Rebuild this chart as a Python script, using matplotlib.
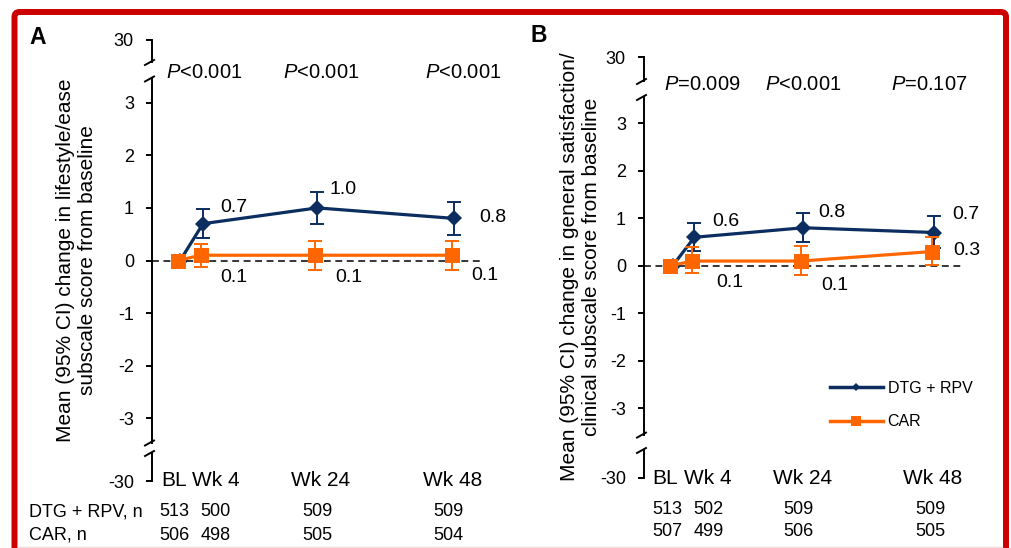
import matplotlib
matplotlib.use('Agg')
import matplotlib.pyplot as plt
from matplotlib.lines import Line2D
from matplotlib.patches import FancyBboxPatch
from matplotlib.transforms import IdentityTransform

plt.rcParams['font.family'] = ['Liberation Sans', 'DejaVu Sans']
plt.rcParams['mathtext.fontset'] = 'custom'
plt.rcParams['mathtext.it'] = 'Liberation Sans:italic'
plt.rcParams['mathtext.rm'] = 'Liberation Sans'
plt.rcParams['axes.unicode_minus'] = False

# ---------------- data ----------------
timepoints = ['BL', 'Wk 4', 'Wk 24', 'Wk 48']
weeks = [0, 4, 24, 48]
series_names = ['DTG + RPV', 'CAR']
row_labels = ['DTG + RPV, n', 'CAR, n']

a_dtg_mean = [0.0, 0.7, 1.0, 0.8]
a_dtg_lo = [0.0, 0.43, 0.70, 0.48]
a_dtg_hi = [0.0, 0.97, 1.30, 1.11]
a_car_mean = [0.0, 0.1, 0.1, 0.1]
a_car_lo = [0.0, -0.12, -0.18, -0.18]
a_car_hi = [0.0, 0.32, 0.38, 0.38]
a_pvalues = ['<0.001', '<0.001', '<0.001']
a_n_dtg = [513, 500, 509, 509]
a_n_car = [506, 498, 505, 504]
a_ylabel = 'Mean (95% CI) change in lifestyle/ease\nsubscale score from baseline'

b_dtg_mean = [0.0, 0.6, 0.8, 0.7]
b_dtg_lo = [0.0, 0.32, 0.51, 0.37]
b_dtg_hi = [0.0, 0.91, 1.11, 1.05]
b_car_mean = [0.0, 0.1, 0.1, 0.3]
b_car_lo = [0.0, -0.16, -0.20, 0.01]
b_car_hi = [0.0, 0.39, 0.41, 0.61]
b_pvalues = ['=0.009', '<0.001', '=0.107']
b_n_dtg = [513, 502, 509, 509]
b_n_car = [507, 499, 506, 505]
b_ylabel = 'Mean (95% CI) change in general satisfaction/\nclinical subscale score from baseline'

yticks_main = [-3, -2, -1, 0, 1, 2, 3]
ytick_top = 30
ytick_bot = -30

# ---------------- style ----------------
BLUE = '#0B2D5F'
ORANGE = '#FF6600'
RED = '#CC0000'
W, H = 1011, 548

fig = plt.figure(figsize=(W / 100, H / 100), dpi=100)


def px_axes(left, top, right, bottom):
    return fig.add_axes([left / W, 1 - bottom / H, (right - left) / W, (bottom - top) / H])


def break_mark(x, y):
    fig.add_artist(Line2D([x - 7, x + 2], [H - (y + 3), H - (y - 2)],
                          transform=IdentityTransform(), color='black', lw=1.4))


def draw_panel(cfg):
    ax = px_axes(cfg['left'], cfg['main_top'], cfg['right'], cfg['main_bottom'])
    ax_top = px_axes(cfg['left'], cfg['top_top'], cfg['right'], cfg['top_bottom'])
    ax_bot = px_axes(cfg['left'], cfg['bot_top'], cfg['right'], cfg['bot_bottom'])
    for a in (ax, ax_top, ax_bot):
        a.set_xlim(*cfg['xlim'])
        a.patch.set_visible(False)
        for s in ('top', 'right', 'bottom'):
            a.spines[s].set_visible(False)
        a.spines['left'].set_linewidth(1.4)
        a.tick_params(axis='y', direction='out', length=4.5, width=1.4,
                      labelsize=13, pad=8.5)
        a.tick_params(axis='x', bottom=False, labelbottom=False)
    ax.set_ylim(-cfg['ylim'], cfg['ylim'])
    ax.set_yticks(yticks_main)
    ax_top.set_ylim(ytick_top - 10, ytick_top)
    ax_top.set_yticks([ytick_top])
    ax_bot.set_ylim(ytick_bot, ytick_bot + 10)
    ax_bot.set_yticks([ytick_bot])

    for y in (cfg['top_bottom'], cfg['main_top'], cfg['main_bottom'], cfg['bot_top']):
        break_mark(cfg['left'], y)

    ax.axhline(0, color='black', lw=1.1, dashes=(4.5, 3), zorder=1)

    for (mean, lo, hi, color, marker, ms, dodge, offs, z) in (
        (cfg['dtg'], cfg['dtg_lo'], cfg['dtg_hi'], BLUE, 'D', 8.5, 0.2, cfg['dtg_offs'], 3),
        (cfg['car'], cfg['car_lo'], cfg['car_hi'], ORANGE, 's', 10.8, -0.2, cfg['car_offs'], 4),
    ):
        xs = [w + dodge for w in weeks]
        ax.plot(xs, mean, color=color, lw=2.3, marker=marker, ms=ms, mew=0, zorder=z)
        err_lo = [m - l for m, l in zip(mean[1:], lo[1:])]
        err_hi = [h - m for m, h in zip(mean[1:], hi[1:])]
        ax.errorbar(xs[1:], mean[1:], yerr=[err_lo, err_hi], fmt='none', ecolor=color,
                    elinewidth=1.4, capsize=4.7, capthick=1.4, zorder=z)
        for x, m, (dx, dy) in zip(xs[1:], mean[1:], offs):
            ax.annotate(f'{m:.1f}', xy=(x, m), xytext=(dx, -dy), textcoords='offset pixels',
                        ha='center', va='center', fontsize=14)

    for w, p, dx in zip(weeks[1:], cfg['pvals'], cfg['p_dx']):
        ax.annotate(r'$P$' + p, xy=(w, 1), xycoords=('data', 'axes fraction'),
                    xytext=(dx, cfg['p_dy']), textcoords='offset pixels',
                    ha='center', va='center', fontsize=14.5)

    for w, lab, dx in zip(weeks, timepoints, cfg['lab_dx']):
        ax_bot.annotate(lab, xy=(w, 0), xycoords=('data', 'axes fraction'),
                        xytext=(dx, 0), textcoords='offset pixels',
                        ha='center', va='center', fontsize=15)
    for w, n1, n2, dx in zip(weeks, cfg['n_dtg'], cfg['n_car'], cfg['n_dx']):
        ax_bot.annotate(str(n1), xy=(w, 0), xycoords=('data', 'axes fraction'),
                        xytext=(dx, -cfg['n_dy'][0]), textcoords='offset pixels',
                        ha='center', va='center', fontsize=13)
        ax_bot.annotate(str(n2), xy=(w, 0), xycoords=('data', 'axes fraction'),
                        xytext=(dx, -cfg['n_dy'][1]), textcoords='offset pixels',
                        ha='center', va='center', fontsize=13)

    fig.text(cfg['ylab_xy'][0] / W, 1 - cfg['ylab_xy'][1] / H, cfg['ylabel'],
             rotation=90, ha='center', va='center', multialignment='center',
             fontsize=15, linespacing=1.25)
    fig.text(cfg['letter_xy'][0] / W, 1 - cfg['letter_xy'][1] / H, cfg['letter'],
             ha='center', va='center', fontsize=16.5, fontweight='bold')
    return ax


cfg_a = dict(left=152, right=480, main_top=78.5, main_bottom=442.5, ylim=3.46,
             top_top=39.5, top_bottom=62, bot_top=453, bot_bottom=481,
             xlim=(-4.73, 52.7),
             dtg=a_dtg_mean, dtg_lo=a_dtg_lo, dtg_hi=a_dtg_hi,
             car=a_car_mean, car_lo=a_car_lo, car_hi=a_car_hi,
             dtg_offs=[(31, -16), (26, -18), (39, -1)],
             car_offs=[(33, 22), (34, 22), (33, 20)],
             pvals=a_pvalues, p_dx=[2, 5.5, 10.5], p_dy=6.5,
             lab_dx=[-4.5, 14, 4, -1], n_dtg=a_n_dtg, n_car=a_n_car,
             n_dx=[-5, 14, 1, -5], n_dy=(31, 54),
             ylabel=a_ylabel, ylab_xy=(76.5, 260.5), letter='A', letter_xy=(38, 38))

cfg_b = dict(left=644, right=962, main_top=97, main_bottom=434.6, ylim=3.55,
             top_top=57, top_bottom=81, bot_top=450, bot_bottom=478,
             xlim=(-5.05, 53.3),
             dtg=b_dtg_mean, dtg_lo=b_dtg_lo, dtg_hi=b_dtg_hi,
             car=b_car_mean, car_lo=b_car_lo, car_hi=b_car_hi,
             dtg_offs=[(31, -16), (28, -15), (32, -18)],
             car_offs=[(38, 21), (34, 24), (35, -1)],
             pvals=b_pvalues, p_dx=[9, 1, -3.5], p_dy=12,
             lab_dx=[-6.5, 14, 0, 0], n_dtg=b_n_dtg, n_car=b_n_car,
             n_dx=[-4.5, 15, -4, -3], n_dy=(31, 53),
             ylabel=b_ylabel, ylab_xy=(580.5, 266.5), letter='B', letter_xy=(538.5, 35.5))

draw_panel(cfg_a)
ax_b = draw_panel(cfg_b)

# n-table row labels
for lab, y in zip(row_labels, (512, 535)):
    fig.text(29 / W, 1 - y / H, lab, ha='left', va='center', fontsize=13)

# legend
handles = [Line2D([], [], color=BLUE, lw=2.5, marker='D', ms=4.5, mew=0),
           Line2D([], [], color=ORANGE, lw=2.5, marker='s', ms=7, mew=0)]
fig.legend(handles, series_names, loc='upper left',
           bbox_to_anchor=(830 / W, 1 - 381 / H), frameon=False, fontsize=11.5,
           handlelength=3.3, handletextpad=0.3, labelspacing=1.15,
           borderpad=0, borderaxespad=0)

# red slide frame
frame = FancyBboxPatch((14.5, -30), 1006 - 14.5, (H - 12) + 30, transform=IdentityTransform(),
                       boxstyle='round,pad=0,rounding_size=5', fill=False,
                       edgecolor=RED, lw=4.3)
fig.add_artist(frame)
fig.add_artist(Line2D([18, 1002], [1.5, 1.5], transform=IdentityTransform(),
                      color='#f2dada', lw=1.0))

fig.savefig('out.png', dpi=100)
